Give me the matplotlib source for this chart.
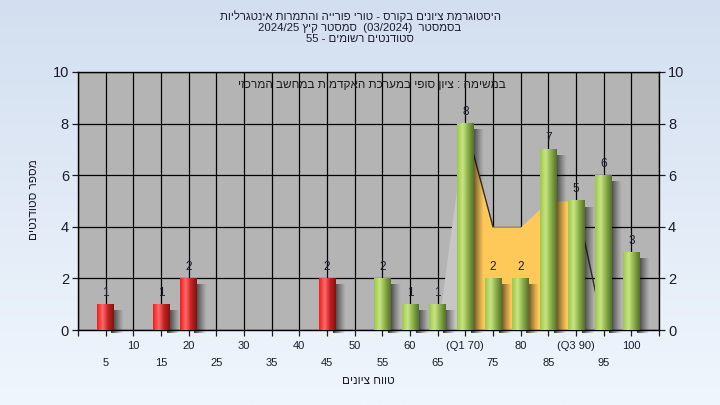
import numpy as np
import matplotlib.pyplot as plt
from matplotlib.colors import LinearSegmentedColormap

plt.rcParams['font.family'] = ['Liberation Sans Narrow', 'Liberation Sans', 'DejaVu Sans']

# data
grades = [5, 10, 15, 20, 25, 30, 35, 40, 45, 50, 55, 60, 65, 70, 75, 80, 85, 90, 95, 100]
counts = [1, 0, 1, 2, 0, 0, 0, 0, 2, 0, 2, 1, 1, 8, 2, 2, 7, 5, 6, 3]
pass_mark = 55
q1, q3 = 70, 90

# distribution area drawn behind the bars
area_x = [65, 70, 75, 80, 85, 90, 95]
area_y = [0, 8, 4, 4, 5, 5, 0]

tick_labels = {70: '(Q1 70)', 90: '(Q3 90)'}

title_1 = 'היסטוגרמת ציונים בקורס - טורי פורייה והתמרות אינטגרליות'
semester = 'סמסטר קיץ'
in_semester = 'בסמסטר'
year = '2024/25'
date = '03/2024'
registered = 'סטודנטים רשומים'
n_registered = 55
task = 'במשימה : ציון סופי במערכת האקדמית במחשב המרכזי'
xlab = 'טווח ציונים'
ylab = 'מספר סטודנטים'


def rtl(s):
    # matplotlib has no bidi support, so flip pure-Hebrew runs by hand
    return s[::-1]


fig = plt.figure(figsize=(7.2, 4.05), dpi=100)

# light blue gradient background
bg = fig.add_axes([0, 0, 1, 1], zorder=-10)
bg_cmap = LinearSegmentedColormap.from_list('bg', ['#d3dff0', '#f0f6fd'])
bg.imshow(np.linspace(0, 1, 256).reshape(-1, 1), aspect='auto', cmap=bg_cmap,
          extent=[0, 1, 0, 1])
bg.axis('off')

ax = fig.add_axes([78 / 720, 1 - 330 / 405, 581 / 720, 258 / 405])
ax.set_facecolor('#b4b4b4')

# area: light gray outside the quartiles, yellow between them
ax_ = np.array(area_x, float)
ay_ = np.array(area_y, float)
ax.fill_between(ax_, ay_, where=(ax_ <= q1), color='#c6c6c6', zorder=1, lw=0)
ax.fill_between(ax_, ay_, where=(ax_ >= q1) & (ax_ <= q3), color='#ffc95a', zorder=1, lw=0)
for i in range(len(area_x) - 1):
    if area_y[i + 1] < area_y[i] and area_x[i] >= q1:
        ax.plot(area_x[i:i + 2], area_y[i:i + 2], color='#303030', lw=1.0, zorder=1.5)

# bars with cylinder-like shading and a soft shadow
width = 3
red_cmap = LinearSegmentedColormap.from_list('r', ['#ee1c1c', '#ff6a6a', '#c42020', '#7e1414'])
green_cmap = LinearSegmentedColormap.from_list('g', ['#9cc84a', '#c8e484', '#88ad46', '#56702c'])
grad = np.linspace(0, 1, 64).reshape(1, -1)

shadow = np.zeros((1, 64, 4))
shadow[..., 3] = np.linspace(0.8, 0.0, 64) ** 1.2

bars = ax.bar(grades, counts, width=width, color='none', lw=0, zorder=3)
for g, c, b in zip(grades, counts, bars):
    if c == 0:
        continue
    cmap = red_cmap if g < pass_mark else green_cmap
    x0 = b.get_x()
    x1 = x0 + b.get_width()
    ax.imshow(shadow, aspect='auto', zorder=2, clip_on=False,
              extent=[x1 - 0.5, x1 + 1.8, -0.12, b.get_height() - 0.25])
    ax.imshow(grad, aspect='auto', cmap=cmap, zorder=3,
              extent=[x0, x1, 0, b.get_height()])
    ax.text(g, c + 0.22, str(c), ha='center', va='bottom', fontsize=8.5,
            color='#1c1c30', zorder=4)

ax.set_xlim(0, 105)
ax.set_ylim(0, 10)

# x ticks: even multiples of ten on the upper row, odd fives on the lower row
major = list(range(10, 101, 10))
minor = [0] + list(range(5, 100, 10)) + [105]
ax.set_xticks(major)
ax.set_xticklabels([tick_labels.get(v, str(v)) for v in major])
ax.set_xticks(minor, minor=True)
ax.set_xticklabels([''] + [str(v) for v in range(5, 100, 10)] + [''], minor=True)
ax.tick_params(axis='x', which='major', length=4, width=0.9, pad=4, labelsize=8, colors='#1c1c2c')
ax.tick_params(axis='x', which='minor', length=4, width=0.9, pad=16.5, labelsize=8, colors='#1c1c2c')
ax.xaxis.grid(True, which='both', color='black', lw=0.9)
ax.yaxis.grid(True, color='black', lw=0.9)
ax.set_axisbelow(True)

ax.set_yticks(range(0, 11, 2))
ax.tick_params(axis='y', which='both', length=4.5, width=0.9, pad=2, labelsize=10.5,
               colors='#1c1c2c', left=True, right=True, labelleft=True, labelright=True)
for s in ax.spines.values():
    s.set_color('black')
    s.set_linewidth(1.0)

ax.text(0.505, 0.95, rtl(task), transform=ax.transAxes, ha='center', va='center',
        fontsize=8.5, color='#1c1c1c', zorder=5)

title = '\n'.join([
    rtl(title_1),
    f'{year} ' + rtl(semester) + f'  ({date})  ' + rtl(in_semester),
    f'{n_registered} - ' + rtl(registered),
])
fig.text(0.5, 1 - 10 / 405, title, ha='center', va='top', fontsize=8.2,
         color='#1c1c2c', linespacing=1.18)

fig.text(368 / 720, 1 - 381 / 405, rtl(xlab), ha='center', va='center', fontsize=8.5, color='#1c1c2c')
fig.text(34 / 720, 1 - 200 / 405, rtl(ylab), ha='center', va='center', rotation=90,
         fontsize=8.5, color='#1c1c2c')

fig.savefig('out.png', dpi=100)
